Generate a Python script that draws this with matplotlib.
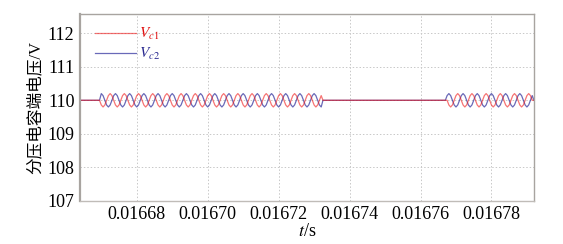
import matplotlib

matplotlib.use("Agg")
import matplotlib.pyplot as plt
import numpy as np

plt.rcParams["font.family"] = ["Liberation Serif", "Noto Sans CJK SC"]
plt.rcParams["mathtext.fontset"] = "stix"

# time window and ripple segments (s)
t_start = 0.016664
t_end = 0.016792
t_step = 0.5e-6
ripple_segments = [(0.0166696, 0.0167324), (0.0167674, 0.016792)]

# one ripple cycle (8 samples, 4 us period), V
vc1_cycle = [110.0, 109.86, 109.8, 109.86, 110.0, 110.14, 110.2, 110.14]
vc2_cycle = [110.14, 110.2, 110.14, 110.0, 109.86, 109.8, 109.86, 110.0]
v_flat = 110.0

x_ticks = [0.01668, 0.01670, 0.01672, 0.01674, 0.01676, 0.01678]
y_ticks = [107, 108, 109, 110, 111, 112]

t = np.arange(t_start, t_end + t_step / 2, t_step)
vc1 = np.full(t.shape, v_flat)
vc2 = np.full(t.shape, v_flat)
for a, b in ripple_segments:
    m = (t >= a) & (t <= b)
    k = np.round((t[m] - a) / t_step).astype(int) % len(vc1_cycle)
    vc1[m] = np.array(vc1_cycle)[k]
    vc2[m] = np.array(vc2_cycle)[k]

fig = plt.figure(figsize=(5.63, 2.44), dpi=100)
ax = fig.add_axes([0.1421, 0.1775, 0.8064, 0.764])

ax.plot(t, vc2, color="#2a2a9a", lw=0.9, alpha=0.7, label=r"$V_{c2}$")
ax.plot(t, vc1, color="#f01818", lw=0.9, alpha=0.6, label=r"$V_{c1}$")

ax.set_xlim(t_start, t_end)
ax.set_ylim(107, 112.57)
ax.set_xticks(x_ticks)
ax.set_xticklabels([f"{v:.5f}" for v in x_ticks])
ax.set_yticks(y_ticks)
ax.tick_params(length=0, labelsize=13, pad=4)
ax.grid(True, color="#c8c8c8", ls=(0, (1.5, 2)), lw=0.7)

for s in ax.spines.values():
    s.set_color("#a8a4a0")
    s.set_linewidth(1.0)
ax.spines["left"].set_linewidth(1.6)
ax.spines["bottom"].set_color("#c0bcb8")

ax.set_xlabel(r"$t$/s", fontsize=13, labelpad=0)
ax.set_ylabel("分压电容端电压/V", fontsize=12, labelpad=3)

h, l = ax.get_legend_handles_labels()
leg = ax.legend(h[::-1], l[::-1], loc="upper left", bbox_to_anchor=(0.003, 1.01),
                frameon=False, fontsize=11, handlelength=2.7, handletextpad=0.15,
                labelspacing=0.25)
for txt, col in zip(leg.get_texts(), ["#e01010", "#2a2a90"]):
    txt.set_color(col)

fig.savefig("out.png", dpi=100)
